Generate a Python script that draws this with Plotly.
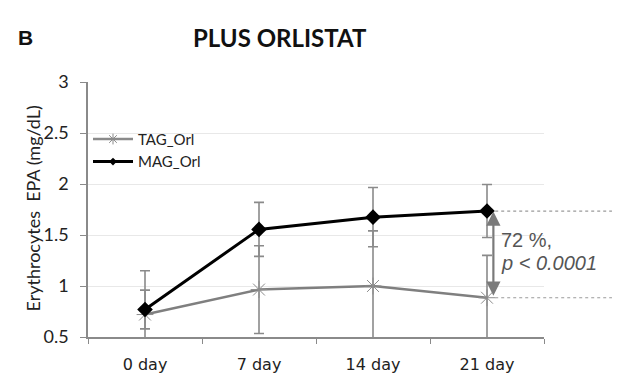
import plotly.graph_objects as go

categories = ["0 day", "7 day", "14 day", "21 day"]
tag_vals = [0.72, 0.965, 1.0, 0.885]
tag_err = [0.43, 0.43, 0.54, 0.415]
mag_vals = [0.77, 1.555, 1.675, 1.735]
mag_err = [0.19, 0.265, 0.29, 0.26]
y_ticks = [0.5, 1, 1.5, 2, 2.5, 3]
y_tick_text = ["0.5", "1", "1.5", "2", "2.5", "3"]
note_line1 = "72 %,"
note_line2 = "p &lt; 0.0001"

GRAY = "#8a8a8a"
LBL = "Lato"

fig = go.Figure()
fig.add_trace(go.Scatter(
    x=categories, y=tag_vals, name="TAG_Orl", mode="lines+markers", showlegend=False,
    line=dict(color="#7f7f7f", width=2.5),
    marker=dict(symbol="asterisk-open", size=14, color="#8c8c8c", line=dict(width=1, color="#8c8c8c")),
    error_y=dict(type="data", array=tag_err, visible=True, color=GRAY, thickness=1.6, width=5),
))
fig.add_trace(go.Scatter(
    x=categories, y=mag_vals, name="MAG_Orl", mode="lines+markers", showlegend=False,
    line=dict(color="#000000", width=3),
    marker=dict(symbol="diamond", size=12, color="#000000"),
    error_y=dict(type="data", array=mag_err, visible=True, color=GRAY, thickness=1.6, width=5),
))
# legend entries (small markers like the original legend)
fig.add_trace(go.Scatter(x=[categories[0]], y=[None], name="TAG_Orl", mode="lines+markers",
                         line=dict(color="#8a8a8a", width=2.5),
                         marker=dict(symbol="asterisk-open", size=9, line=dict(width=1, color="#8a8a8a"))))
fig.add_trace(go.Scatter(x=[categories[0]], y=[None], name="MAG_Orl", mode="lines+markers",
                         line=dict(color="#000000", width=3),
                         marker=dict(symbol="diamond", size=6, color="#000000")))

# dashed reference lines and double arrow
for v in (mag_vals[-1], tag_vals[-1]):
    fig.add_shape(type="line", xref="paper", yref="y", x0=0.893, x1=1.149, y0=v, y1=v,
                  line=dict(color="#9a9a9a", width=1.2, dash="3px,3px"))
fig.add_annotation(xref="paper", yref="y", x=0.889, y=mag_vals[-1] - 0.005,
                   axref="pixel", ayref="y", ax=0, ay=tag_vals[-1] + 0.005,
                   text="", showarrow=True, arrowhead=2, arrowside="end+start",
                   arrowsize=1.3, arrowwidth=2.2, arrowcolor="#7a7a7a")
fig.add_annotation(xref="paper", yref="y", x=0.9007, y=1.45, xanchor="left", yanchor="middle",
                   text=note_line1, showarrow=False,
                   font=dict(family="Liberation Sans", size=20, color="#555555"))
fig.add_annotation(xref="paper", yref="y", x=0.9007, y=1.221, xanchor="left", yanchor="middle",
                   text="<i>" + note_line2 + "</i>", showarrow=False,
                   font=dict(family="Liberation Sans", size=20, color="#555555"))

# titles
fig.add_annotation(xref="paper", yref="paper", x=0.421, y=1.176, xanchor="center", yanchor="middle",
                   text="<b>PLUS ORLISTAT</b>",
                   showarrow=False, font=dict(family=LBL, size=24, color="#111111"))
fig.add_annotation(xref="paper", yref="paper", x=-0.138, y=1.176, xanchor="center", yanchor="middle",
                   text="<b>B</b>",
                   showarrow=False, font=dict(family="Liberation Sans", size=21, color="#111111"))
fig.add_annotation(xref="paper", yref="paper", x=-0.1206, y=0.504, xanchor="center", yanchor="middle",
                   text="Erythrocytes  EPA (mg/dL)",
                   textangle=-90, showarrow=False, font=dict(family=LBL, size=18, color="#222222"))

fig.update_layout(
    width=618, height=382,
    margin=dict(l=80, r=82, t=74, b=53),
    paper_bgcolor="white", plot_bgcolor="white",
    showlegend=True,
    legend=dict(x=0.0, y=0.84, xanchor="left", yanchor="top", bgcolor="rgba(0,0,0,0)",
                font=dict(family=LBL, size=15, color="#222222"), tracegroupgap=0, itemwidth=40),
    xaxis=dict(type="category", range=[-0.5, 3.5], tickson="boundaries", ticks="outside",
               ticklen=5, tickcolor=GRAY, showline=True, linecolor=GRAY, linewidth=1.5,
               ticklabelstandoff=12,
               showgrid=False, tickfont=dict(family="DejaVu Sans", size=16, color="#222222")),
    yaxis=dict(range=[0.5, 3], tickvals=y_ticks, ticktext=y_tick_text, ticks="outside", ticklen=6,
               tickcolor=GRAY, showline=True, linecolor=GRAY, linewidth=1.5, ticklabelstandoff=8,
               showgrid=True, gridcolor="#e8e8e8", gridwidth=1, zeroline=False,
               tickfont=dict(family=LBL, size=18, color="#222222")),
)

fig.write_html("out.html")
